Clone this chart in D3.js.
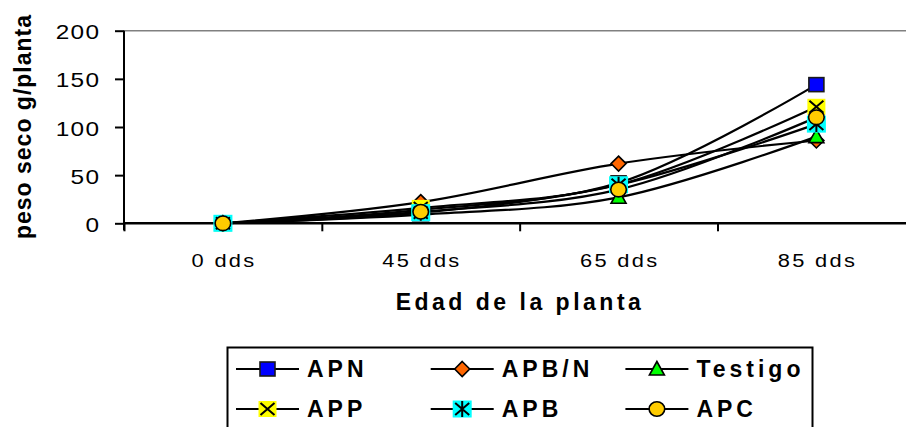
<!DOCTYPE html>
<html>
<head>
<meta charset="utf-8">
<script src="https://cdn.jsdelivr.net/npm/d3@7/dist/d3.min.js"></script>
<style>
  html, body { margin: 0; padding: 0; background: #fff; }
  svg { display: block; font-family: "Liberation Sans", Arial, sans-serif; }
</style>
</head>
<body>
<svg id="chart" width="906" height="427"></svg>
<script>
// Dry weight per plant (g) at each plant age
const categories = ["0 dds", "45 dds", "65 dds", "85 dds"];
const yTicks = [0, 50, 100, 150, 200];

const seriesNames = ["APN", "APB/N", "Testigo", "APP", "APB", "APC"];
const valuesAPN     = [0, 14, 42, 144];
const valuesAPBN    = [0, 22, 62, 86];
const valuesTestigo = [0, 9, 27, 90];
const valuesAPP     = [0, 16, 40, 121];
const valuesAPB     = [0, 11, 40, 103];
const valuesAPC     = [0, 12, 35, 110];

const yTitle = "peso seco g/planta";
const xTitle = "Edad de la planta";

const series = [
  { name: seriesNames[0], values: valuesAPN,     marker: "square",   fill: "#0000FF" },
  { name: seriesNames[1], values: valuesAPBN,    marker: "diamond",  fill: "#FF6600" },
  { name: seriesNames[2], values: valuesTestigo, marker: "triangle", fill: "#00FF00" },
  { name: seriesNames[3], values: valuesAPP,     marker: "cross",    fill: "#FFFF00" },
  { name: seriesNames[4], values: valuesAPB,     marker: "star",     fill: "#00FFFF" },
  { name: seriesNames[5], values: valuesAPC,     marker: "circle",   fill: "#FFCC00" }
];

const svg = d3.select("#chart");

// plot area (extends past the right edge of the page)
const plotLeft = 124, plotRight = 915.3, plotTop = 30.7, plotBottom = 223.3;

const x = d3.scaleBand().domain(categories).range([plotLeft, plotRight]).padding(0);
const xc = c => x(c) + x.bandwidth() / 2;
const xEdge = d3.scaleLinear().domain([0, categories.length]).range([plotLeft, plotRight]);
const y = d3.scaleLinear().domain([0, 200]).range([plotBottom, plotTop]);

// top border of the plot area
svg.append("line")
  .attr("x1", plotLeft).attr("x2", 906)
  .attr("y1", y(200)).attr("y2", y(200))
  .attr("stroke", "#808080").attr("stroke-width", 1.5);

// y axis
const yAxis = svg.append("g")
  .attr("transform", `translate(${plotLeft},0)`)
  .call(d3.axisLeft(y).tickValues(yTicks).tickSize(9).tickFormat(""));
yAxis.select(".domain").attr("stroke", "#000").attr("stroke-width", 2)
  .attr("d", `M0,${plotTop}V${plotBottom + 7}`);
yAxis.selectAll(".tick line").attr("stroke", "#000").attr("stroke-width", 2);

// y tick labels, set in a slightly widened face
svg.append("g").selectAll("text")
  .data(yTicks)
  .join("text")
  .attr("transform", d => `translate(100.2,${y(d) + 8.5}) scale(1.22,1)`)
  .attr("text-anchor", "end")
  .attr("font-size", 20)
  .attr("letter-spacing", 1)
  .attr("fill", "#000")
  .text(d => d);

// x axis with ticks between categories
const xAxis = svg.append("g")
  .attr("transform", `translate(0,${plotBottom})`)
  .call(d3.axisBottom(xEdge).tickValues(d3.range(categories.length + 1)).tickSize(8).tickFormat(""));
xAxis.select(".domain").attr("stroke", "#000").attr("stroke-width", 2.5)
  .attr("d", `M${plotLeft},0H${plotRight}`);
xAxis.selectAll(".tick line").attr("stroke", "#000").attr("stroke-width", 2);

svg.append("g").selectAll("text")
  .data(categories)
  .join("text")
  .attr("transform", d => `translate(${xc(d)},266.5) scale(1.15,1)`)
  .attr("dx", 1)
  .attr("text-anchor", "middle")
  .attr("font-size", 19)
  .attr("letter-spacing", 2)
  .attr("fill", "#000")
  .text(d => d);

// axis titles
svg.append("text")
  .attr("x", 520).attr("y", 310)
  .attr("text-anchor", "middle")
  .attr("font-size", 23).attr("font-weight", "bold")
  .attr("letter-spacing", 3.5)
  .text(xTitle);

svg.append("text")
  .attr("transform", "translate(31,126.5) rotate(-90)")
  .attr("text-anchor", "middle")
  .attr("font-size", 23).attr("font-weight", "bold")
  .attr("letter-spacing", 1)
  .text(yTitle);

// marker drawing
function drawMarker(g, type, fill, cx, cy) {
  const m = g.append("g").attr("transform", `translate(${cx},${cy})`);
  if (type === "square") {
    m.append("rect").attr("x", -7.5).attr("y", -7).attr("width", 15).attr("height", 14)
      .attr("fill", fill).attr("stroke", "#1a1a1a").attr("stroke-width", 1.6);
  } else if (type === "diamond") {
    m.append("path").attr("d", "M0,-7.5L7.5,0L0,7.5L-7.5,0Z")
      .attr("fill", fill).attr("stroke", "#000").attr("stroke-width", 1.6);
  } else if (type === "triangle") {
    m.append("path").attr("d", "M0,-7.5L7.5,6L-7.5,6Z")
      .attr("fill", fill).attr("stroke", "#000").attr("stroke-width", 1.6);
  } else if (type === "cross") {
    m.append("rect").attr("x", -9).attr("y", -8).attr("width", 18).attr("height", 16).attr("fill", fill);
    m.append("path").attr("d", "M-7,-6L7,6M-7,6L7,-6")
      .attr("stroke", "#000").attr("stroke-width", 2).attr("fill", "none");
  } else if (type === "star") {
    m.append("rect").attr("x", -9.5).attr("y", -8.5).attr("width", 19).attr("height", 17).attr("fill", fill);
    m.append("path").attr("d", "M-7,-6L7,6M-7,6L7,-6M0,-8V8")
      .attr("stroke", "#000").attr("stroke-width", 2).attr("fill", "none");
  } else if (type === "circle") {
    m.append("ellipse").attr("rx", 7.8).attr("ry", 7.3)
      .attr("fill", fill).attr("stroke", "#000").attr("stroke-width", 1.6);
  }
}

// smoothed lines
const line = d3.line()
  .x((d, i) => xc(categories[i]))
  .y(d => y(d))
  .curve(d3.curveCatmullRom.alpha(0.5));

svg.append("g").selectAll("path.series")
  .data(series)
  .join("path")
  .attr("class", "series")
  .attr("d", s => line(s.values))
  .attr("fill", "none")
  .attr("stroke", "#000")
  .attr("stroke-width", 2.2);

const markers = svg.append("g");
series.forEach(s => {
  s.values.forEach((v, i) => drawMarker(markers, s.marker, s.fill, xc(categories[i]), y(v)));
});

// legend
const legend = svg.append("g");
legend.append("rect")
  .attr("x", 227.5).attr("y", 347.5).attr("width", 585).attr("height", 110)
  .attr("fill", "#fff").attr("stroke", "#000").attr("stroke-width", 2);

const colX = [236, 430.7, 625.4];
const rowY = [369, 409];
series.forEach((s, i) => {
  const lx = colX[i % 3], ly = rowY[Math.floor(i / 3)];
  const item = legend.append("g");
  item.append("line")
    .attr("x1", lx).attr("x2", lx + 63).attr("y1", ly).attr("y2", ly)
    .attr("stroke", "#000").attr("stroke-width", 2);
  drawMarker(item, s.marker, s.fill, lx + 31.5, ly);
  item.append("text")
    .attr("x", lx + 71).attr("y", ly + 8.3)
    .attr("font-size", 23).attr("font-weight", "bold")
    .attr("letter-spacing", 4)
    .text(s.name);
});
</script>
</body>
</html>
